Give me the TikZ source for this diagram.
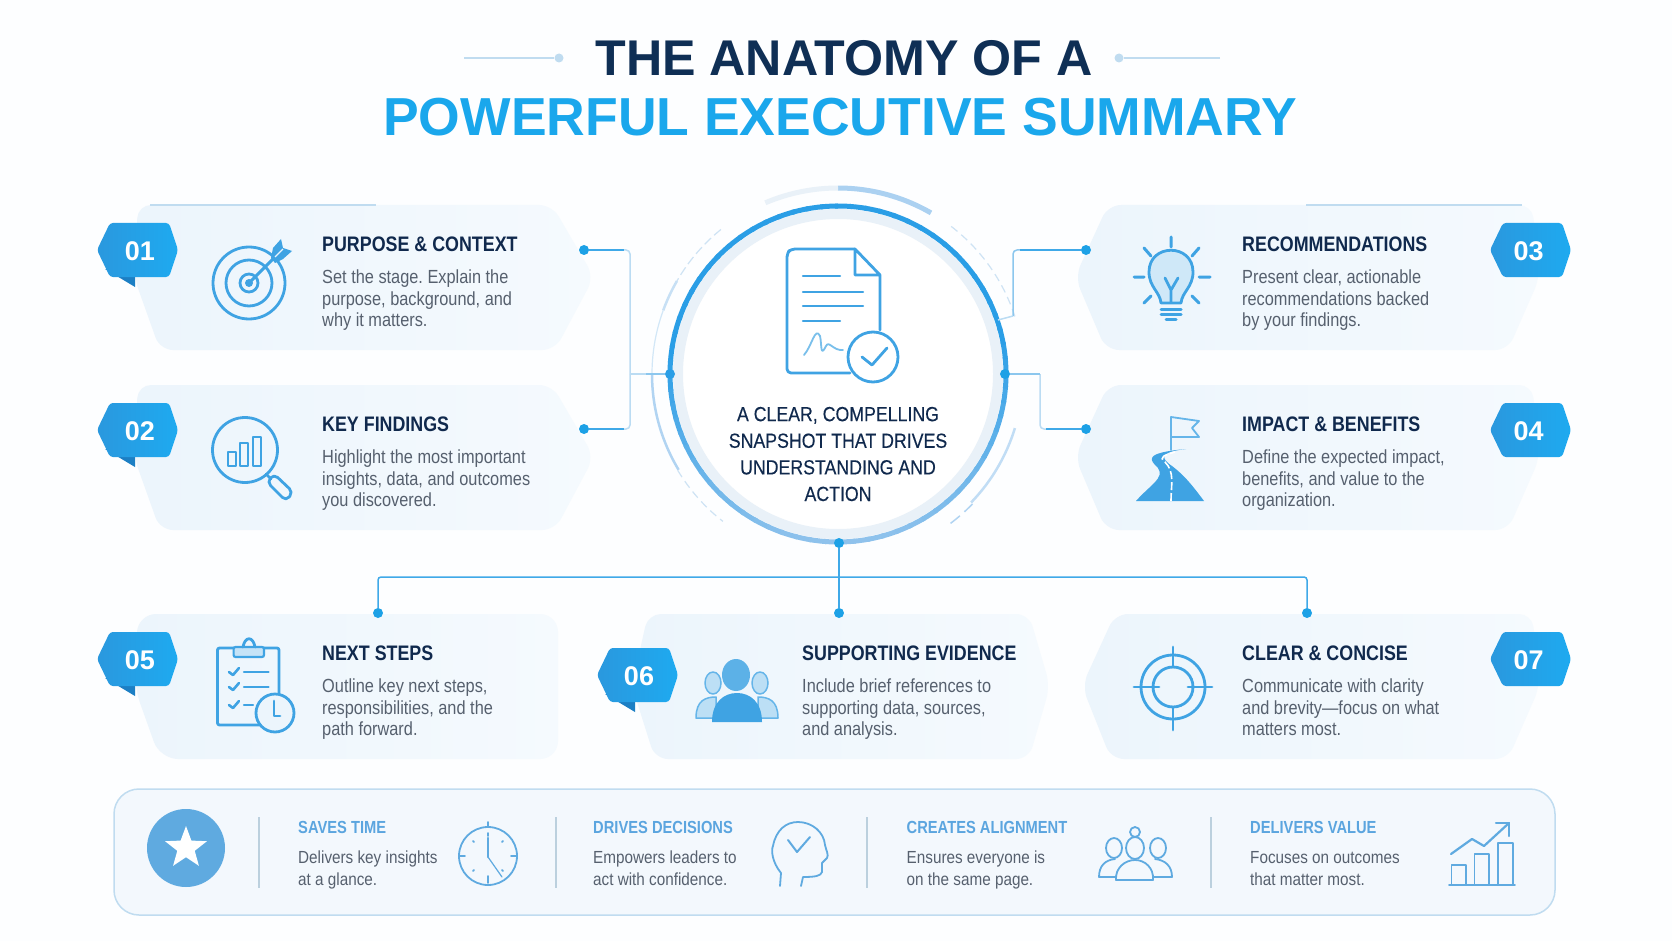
\documentclass[tikz,border=0pt]{standalone}
\usepackage{fontspec}
\usetikzlibrary{shapes.geometric,arrows.meta,calc}
\setmainfont{Liberation Sans}
\newfontfamily\hdf[FakeStretch=.85]{Liberation Sans}
\newfontfamily\bdf[FakeStretch=.86]{Liberation Sans}
\newfontfamily\ctf[FakeStretch=.865,FakeBold=0.25]{Liberation Sans}
\newfontfamily\smf[FakeStretch=.873]{Liberation Sans}
\newfontfamily\shf[FakeStretch=.84]{Liberation Sans}
\definecolor{navy}{HTML}{10294D}
\definecolor{ttlnavy}{HTML}{0F2F55}
\definecolor{ttlblue}{HTML}{1AA7EC}
\definecolor{bodyc}{HTML}{56606E}
\definecolor{icon}{HTML}{3FA3E3}
\definecolor{conn}{HTML}{3FA9E8}
\definecolor{connm}{HTML}{8CC7EE}
\definecolor{connp}{HTML}{BBDCF3}
\definecolor{dotc}{HTML}{1DA1E6}
\definecolor{cardA}{HTML}{ECF5FC}
\definecolor{cardB}{HTML}{F5FAFE}
\definecolor{ringA}{HTML}{2A9EE6}
\definecolor{ringB}{HTML}{8FC2EC}
\definecolor{band}{HTML}{E9F1F8}
\definecolor{barfill}{HTML}{F3F8FD}
\definecolor{barline}{HTML}{C0DCF0}
\definecolor{barhead}{HTML}{5BA5DF}
\definecolor{barsep}{HTML}{BBD0DE}
\definecolor{barico}{HTML}{5FAAE0}
\definecolor{bdgA}{HTML}{2A98DE}
\definecolor{bdgB}{HTML}{1EAAF0}
\definecolor{fold}{HTML}{1C7FC4}
\definecolor{paper}{HTML}{FDFEFF}
\tikzset{
 heading/.style={anchor=base west,inner sep=0pt,text=navy,font={\hdf\bfseries\fontsize{21}{21}\selectfont}},
 bodytext/.style={anchor=north west,inner sep=0pt,align=left,text=bodyc,font={\bdf\frenchspacing\fontsize{19}{21.8}\selectfont}},
 barhd/.style={anchor=base west,inner sep=0pt,text=barhead,font={\shf\bfseries\fontsize{17.5}{17.5}\selectfont}},
 bartext/.style={anchor=north west,inner sep=0pt,align=left,text=bodyc,font={\smf\frenchspacing\fontsize{17.5}{22}\selectfont}},
 badgenum/.style={inner sep=0pt,text=white,font={\bfseries\fontsize{27}{27}\selectfont}},
 dotn/.style={circle,fill=dotc,draw=none,inner sep=0pt,minimum size=10pt},
 linkline/.style={draw=conn,line width=1.5pt},
 midline/.style={draw=connm,line width=1.5pt},
 paleline/.style={draw=connp,line width=1.5pt},
 ico/.style={draw=icon,line width=2.8pt,line cap=round,line join=round},
 icothin/.style={draw=icon,line width=1.8pt,line cap=round,line join=round},
 bico/.style={draw=barico,line width=1.8pt,line cap=round,line join=round},
 barsepl/.style={draw=barsep,line width=1.2pt},
}
% card: left-top x, left-tip x, left-bottom x, right-top x, right-tip x, right-bottom x, top y
\newcommand\cardshape[7]{%
 \shade[left color=cardA,right color=cardB,rounded corners=13pt]
  (#1,#7) -- (#4,#7) -- (#5,#7+72) -- (#6,#7+145) -- (#3,#7+145) -- (#2,#7+72) -- cycle;}
\newcommand\badgeshape[6]{% name, x left, y top, number, fold(1/0), number offset
 \ifnum#5=1 \fill[fold] (#2+8,#3+46) -- (#2+38,#3+64) -- (#2+38,#3+50) -- cycle;\fi
 \shade[left color=bdgA,right color=bdgB,rounded corners=3pt]
  (#2,#3+27) -- (#2+13,#3) -- (#2+72,#3) -- (#2+81,#3+27) -- (#2+72,#3+54) -- (#2+13,#3+54) -- cycle;
 \node[badgenum] (#1) at (#2+#6,#3+28) {#4};}
\newcommand\cardtext[7]{% name, x, y top of card, heading, l1,l2,l3
 \node[heading] (#1h) at (#2,#3+46.5) {#4};
 \node[bodytext] (#1b) at (#2,#3+63) {\rule{0pt}{15pt}#5\\#6\\#7};}
\newcommand\bartxt[5]{% name,x,heading,l1,l2
 \node[barhd] (#1h) at (#2,833) {#3};
 \node[bartext] (#1b) at (#2,849) {\rule{0pt}{14pt}#4\\#5};}
\newcommand\ringarc[4]{% style, from, to, radius
 \draw[#1] plot[domain=#2:#3,samples=40] ({838+#4*cos(\x)},{374-#4*sin(\x)});}
\begin{document}
\begin{tikzpicture}[x=1pt,y=-1pt]
\useasboundingbox (0,0) rectangle (1672,941);
\fill[paper] (0,0) rectangle (1672,941);
% title
\node[inner sep=0pt,anchor=base,text=ttlnavy,font={\bfseries\fontsize{50.2}{50}\selectfont}] (title1) at (844,76) {THE ANATOMY OF A};
\node[inner sep=0pt,anchor=base,text=ttlblue,font={\bfseries\fontsize{53.5}{53}\selectfont}] (title2) at (840,135.5) {POWERFUL EXECUTIVE SUMMARY};
\node[circle,fill=barline,inner sep=0pt,minimum size=9pt] (tdl) at (559,58) {};
\node[circle,fill=barline,inner sep=0pt,minimum size=9pt] (tdr) at (1119,58) {};
\coordinate (tll) at (464,58); \coordinate (tlr) at (1220,58);
\draw[barline,line width=1.4pt] (tll) -- (tdl);
\draw[barline,line width=1.4pt] (tlr) -- (tdr);
% cards
\cardshape{138}{134}{160}{552}{594}{555}{205}
\cardshape{138}{134}{160}{552}{594}{555}{385}
\cardshape{1108}{1075}{1106}{1532}{1540}{1508}{205}
\cardshape{1108}{1075}{1106}{1532}{1540}{1508}{385}
\shade[left color=cardA,right color=cardB,rounded corners=18pt]
 (138,614) -- (558,614) -- (558,759) -- (160,759) -- (134,686) -- cycle;
\cardshape{648}{632}{655}{1029}{1050}{1029}{614}
\cardshape{1115}{1082}{1111}{1532}{1540}{1508}{614}
\draw[barline,line width=1.4pt] (150,205) -- (376,205);
\draw[barline,line width=1.4pt] (1306,205) -- (1522,205);
% ring
\fill[white] (838,374) circle[radius=168pt];
\draw[band,line width=10pt] (838,374) circle[radius=160pt];
\foreach \a in {0,5,...,355}{
 \pgfmathsetmacro\t{100*min(1,(1+sin(\a))/1.15)}
 \pgfmathsetmacro\b{\a+6}
 \draw[color=ringA!\t!ringB,line width=5pt] plot[domain=\a:\b,samples=4] ({838+168*cos(\x)},{374-168*sin(\x)});
}
\ringarc{draw=ringB!75,line width=5pt}{60}{90}{186}
\ringarc{draw=band,line width=5pt}{90}{113}{186}
\ringarc{draw=band!70!ringB,line width=1.2pt,dashed,dash pattern=on 9pt off 4pt}{129}{150}{186}
\ringarc{draw=ringB!50,line width=2.5pt}{150}{160}{186}
\ringarc{draw=ringB!40,line width=1.2pt}{160}{180}{186}
\ringarc{draw=ringB!70,line width=2.5pt}{180}{211}{186}
\ringarc{draw=band!70!ringB,line width=1.2pt,dashed,dash pattern=on 8pt off 5pt}{211}{232}{187}
\ringarc{draw=band!70!ringB,line width=1.2pt,dashed,dash pattern=on 8pt off 5pt}{18}{53}{186}
\ringarc{draw=ringB!55,line width=2.5pt}{-44}{-17}{185}
\ringarc{draw=ringB!70,line width=1.5pt,dashed,dash pattern=on 12pt off 6pt}{-53}{-44}{187}
% ring dots
\node[dotn,fill=ringA] (ringL) at (670,374) {};
\node[dotn] (ringR) at (1005,374) {};
\node[dotn] (ringBm) at (839,543) {};
\coordinate (ringT3) at (998,320);
% connector dots
\node[dotn] (d1) at (584,250) {};
\node[dotn] (d2) at (584,429) {};
\node[dotn] (d3) at (1086,250) {};
\node[dotn] (d4) at (1086,429) {};
\node[dotn] (d5) at (378,613) {};
\node[dotn] (d6) at (839,613) {};
\node[dotn] (d7) at (1307,613) {};
\coordinate (jl) at (630,374);
\coordinate (jr) at (1040,374);
\coordinate (jb) at (839,577);
\coordinate (c3) at (1013,316);
\draw[paleline,rounded corners=4pt] (d1) -| (jl);
\draw[paleline,rounded corners=4pt] (d2) -| (jl);
\draw[linkline] (d1) -- (624,250);
\draw[linkline] (d2) -- (624,429);
\draw[paleline] (jl) -- (ringL);
\draw[midline] (646,374) -- (ringL);
\draw[midline,rounded corners=4pt] (d3) -| (c3);
\draw[linkline] (d3) -- (1020,250);
\draw[paleline] (c3) -- (ringT3);
\draw[paleline,rounded corners=4pt] (d4) -| (jr);
\draw[linkline] (d4) -- (1046,429);
\draw[midline] (jr) -- (ringR);
\draw[linkline] (ringBm) -- (jb);
\draw[linkline,rounded corners=3pt] (jb) -| (d5);
\draw[linkline,rounded corners=3pt] (jb) -| (d7);
\draw[linkline] (jb) -- (d6);
% centre document icon
\draw[ico,rounded corners=4pt] (855,249) -- (791,249) -- (787,253) -- (787,373) -- (850,373);
\draw[ico] (880,330) -- (880,275) -- (855,249) -- (855,275) -- (880,275);
\draw[icothin,line width=2.2pt] (803,276) -- (840,276) (803,292) -- (863,292) (803,306) -- (863,306) (803,321) -- (840,321);
\draw[icothin,draw=icon!70] (804,355) .. controls (812,346) and (815,326) .. (820,336) .. controls (822,345) and (820,358) .. (826,346) .. controls (829,340) and (833,351) .. (843,350);
\fill[white] (873,357) circle[radius=25pt];
\draw[ico] (873,357) circle[radius=25pt];
\draw[ico,line width=2.8pt] (862,357) -- (872,365) -- (887,348);
\node[inner sep=0pt,align=center,anchor=north,text=navy,font={\ctf\frenchspacing\fontsize{20.5}{26.6}\selectfont}] (centre) at (838,405) {\rule{0pt}{16pt}A CLEAR, COMPELLING\\SNAPSHOT THAT DRIVES\\UNDERSTANDING AND\\ACTION};
% badges
\badgeshape{b1}{97}{223}{01}{1}{43}
\badgeshape{b2}{97}{403}{02}{1}{43}
\badgeshape{b3}{1490}{223}{03}{0}{38.5}
\badgeshape{b4}{1490}{403}{04}{0}{38.5}
\badgeshape{b5}{97}{632}{05}{1}{43}
\badgeshape{b6}{597}{648}{06}{1}{42}
\badgeshape{b7}{1490}{632}{07}{0}{38.5}
% card texts
\cardtext{t1}{322}{205}{PURPOSE \& CONTEXT}{Set the stage. Explain the}{purpose, background, and}{why it matters.}
\cardtext{t2}{322}{385}{KEY FINDINGS}{Highlight the most important}{insights, data, and outcomes}{you discovered.}
\cardtext{t3}{1242}{205}{RECOMMENDATIONS}{Present clear, actionable}{recommendations backed}{by your findings.}
\cardtext{t4}{1242}{385}{IMPACT \& BENEFITS}{Define the expected impact,}{benefits, and value to the}{organization.}
\cardtext{t5}{322}{614}{NEXT STEPS}{Outline key next steps,}{responsibilities, and the}{path forward.}
\cardtext{t6}{802}{614}{SUPPORTING EVIDENCE}{Include brief references to}{supporting data, sources,}{and analysis.}
\cardtext{t7}{1242}{614}{CLEAR \& CONCISE}{Communicate with clarity}{and brevity—focus on what}{matters most.}
% target icon
\draw[ico] (249,283) circle[radius=36pt];
\draw[ico] (249,283) circle[radius=23pt];
\draw[ico] (249,283) circle[radius=9pt];
\fill[icon] (249,283) circle[radius=4pt];
\draw[ico,line width=3pt] (249,283) -- (278,254);
\fill[icon] (271,258) -- (273,248) -- (281,239) -- (283,248) -- (292,251) -- (283,259) -- (275,263) -- cycle;
\draw[cardA,line width=1.2pt] (275,257) -- (283,249);
% magnifier
\draw[ico] (245,450) circle[radius=32.5pt];
\draw[icothin,line width=2.2pt] (228,466) rectangle (236,452) (240,466) rectangle (248,443) (253,466) rectangle (261,437);
\draw[ico] (266,474) -- (271,479);
\draw[ico,rounded corners=5pt] (267,482) -- (274,474) -- (293,492) -- (286,501) -- cycle;
% clipboard
\draw[ico,rounded corners=2pt] (217.5,648) rectangle (279,725);
\fill[cardA] (275,713) circle[radius=19pt];
\draw[ico] (275,713) circle[radius=19pt];
\draw[ico] (274,701) -- (274,716) -- (280,716);
\fill[icon!30!white,draw=icon,line width=2.2pt,rounded corners=2pt] (233.6,647) rectangle (264,657);
\draw[ico] (243,647) .. controls (245,636) and (253,636) .. (255,647);
\foreach \yy in {672,687,705}{\draw[icothin,line width=2.6pt] (229,\yy) -- (233,\yy+3) -- (239,\yy-4);}
\draw[icothin,line width=2.2pt] (244,672) -- (268.6,672) (244,687) -- (268.6,687) (244,705) -- (253,705);
% bulb
\draw[ico,fill=icon!25!white] (1161,303) .. controls (1160,292) and (1149,287) .. (1149,272) .. controls (1149,243) and (1193,243) .. (1193,272) .. controls (1193,287) and (1182,292) .. (1181,303) -- cycle;
\draw[ico] (1165,278) -- (1171,290) -- (1178,278) (1171,290) -- (1171,302);
\draw[ico,line width=3pt] (1161,309) -- (1181,309) (1161,314) -- (1181,314) (1166,319) -- (1176,319);
\draw[ico,line width=3pt] (1171,237) -- (1171,247) (1134,277) -- (1144,277) (1199,277) -- (1210,277) (1144,248) -- (1151,256) (1199,248) -- (1192,256) (1144,303) -- (1151,296) (1199,303) -- (1192,296);
% flag and road
\draw[icothin,draw=icon!80] (1171,450) -- (1171,417) -- (1199,421) -- (1192,428) -- (1199,437) -- (1171,437);
\fill[icon] (1136,501) .. controls (1150,485) and (1165,478) .. (1158,468) .. controls (1150,460) and (1142,453) .. (1186,449) .. controls (1160,452) and (1160,458) .. (1172,466) .. controls (1185,476) and (1192,485) .. (1204,501) -- cycle;
\draw[white,line width=1.6pt,dash pattern=on 8pt off 3pt] (1171,501) .. controls (1171,485) and (1175,472) .. (1165,462) .. controls (1158,457) and (1165,455) .. (1175,452);
% people
\draw[icothin,draw=icon!80,fill=icon!35!white,line width=1.5pt] (713,683) ellipse[x radius=8pt,y radius=11pt] (760,683) ellipse[x radius=8pt,y radius=11pt];
\draw[icothin,draw=icon!80,fill=icon!35!white,line width=1.5pt] (696,718) .. controls (696,700) and (706,697) .. (716,697) -- (716,718) -- cycle;
\draw[icothin,draw=icon!80,fill=icon!35!white,line width=1.5pt] (778,718) .. controls (778,700) and (768,697) .. (758,697) -- (758,718) -- cycle;
\fill[icon!85!white] (736,675) ellipse[x radius=14pt,y radius=16pt];
\fill[icon] (712,722) .. controls (712,702) and (724,693) .. (737,693) .. controls (750,693) and (762,702) .. (762,722) -- cycle;
% crosshair
\draw[ico] (1173,687) circle[radius=32pt];
\draw[ico] (1173,687) circle[radius=20pt];
\draw[ico] (1173,647) -- (1173,667) (1173,707) -- (1173,730) (1134,687) -- (1159,687) (1188,687) -- (1212,687);
% bottom bar
\draw[fill=barfill,draw=barline,line width=1.5pt,rounded corners=25pt] (114,789) rectangle (1555,915);
\fill[barico] (186,848) circle[radius=39pt];
\node[star,star points=5,star point ratio=2.4,fill=white,inner sep=0pt,minimum size=44pt] (staricon) at (186,848) {};
\draw[barsepl] (259,817) -- (259,888) (556,817) -- (556,888) (867,817) -- (867,888) (1211,817) -- (1211,888);
\bartxt{s1}{298}{SAVES TIME}{Delivers key insights}{at a glance.}
\bartxt{s2}{593}{DRIVES DECISIONS}{Empowers leaders to}{act with confidence.}
\bartxt{s3}{906.5}{CREATES ALIGNMENT}{Ensures everyone is}{on the same page.}
\bartxt{s4}{1250}{DELIVERS VALUE}{Focuses on outcomes}{that matter most.}
% clock
\draw[bico] (488,856) circle[radius=29pt];
\draw[bico] (488,822) -- (488,827) (488,833) -- (488,836) (488,876) -- (488,883) (460,856) -- (465,856) (511,856) -- (516,856);
\draw[bico] (473,841) -- (474,842) (503,841) -- (502,842) (473,871) -- (474,870) (503,871) -- (502,870);
\draw[bico,line width=2.4pt] (488,838) -- (488,857);
\draw[bico,line width=1.2pt] (488,857) -- (502,877);
% head
\draw[bico] (780,886) -- (781,873) .. controls (772,862) and (771,850) .. (773,846) .. controls (776,830) and (786,822) .. (798,822) .. controls (812,822) and (824,832) .. (825,845) .. controls (826,850) and (829,855) .. (827,858) -- (822,863) -- (822,872) .. controls (821,876) and (815,877) .. (803,877) -- (801,886);
\draw[bico,line width=2pt] (788,840) -- (797,852) -- (810,837);
% team
\draw[bico] (1135,832) circle[radius=5pt];
\draw[bico] (1135,848) ellipse[x radius=9pt,y radius=11pt];
\draw[bico] (1114,848) ellipse[x radius=8pt,y radius=10pt];
\draw[bico] (1158,848) ellipse[x radius=8pt,y radius=10pt];
\draw[bico] (1116,877) -- (1099,877) .. controls (1099,866) and (1105,860) .. (1115,859);
\draw[bico] (1153,877) -- (1172,877) .. controls (1172,866) and (1165,860) .. (1155,859);
\draw[bico] (1116,880) .. controls (1115,868) and (1125,860) .. (1135,860) .. controls (1145,860) and (1154,868) .. (1153,880) -- cycle;
% chart
\draw[bico] (1451.5,885) rectangle (1466,865) (1474.5,885) rectangle (1489,854) (1498,885) rectangle (1513,843);
\draw[bico] (1449,885) -- (1515,885);
\draw[bico,line width=2.2pt] (1451,854) -- (1472,839) -- (1484,846) -- (1509,823);
\draw[bico,line width=2.2pt] (1496,823) -- (1509,823) -- (1509,836);
\end{tikzpicture}
\end{document}
